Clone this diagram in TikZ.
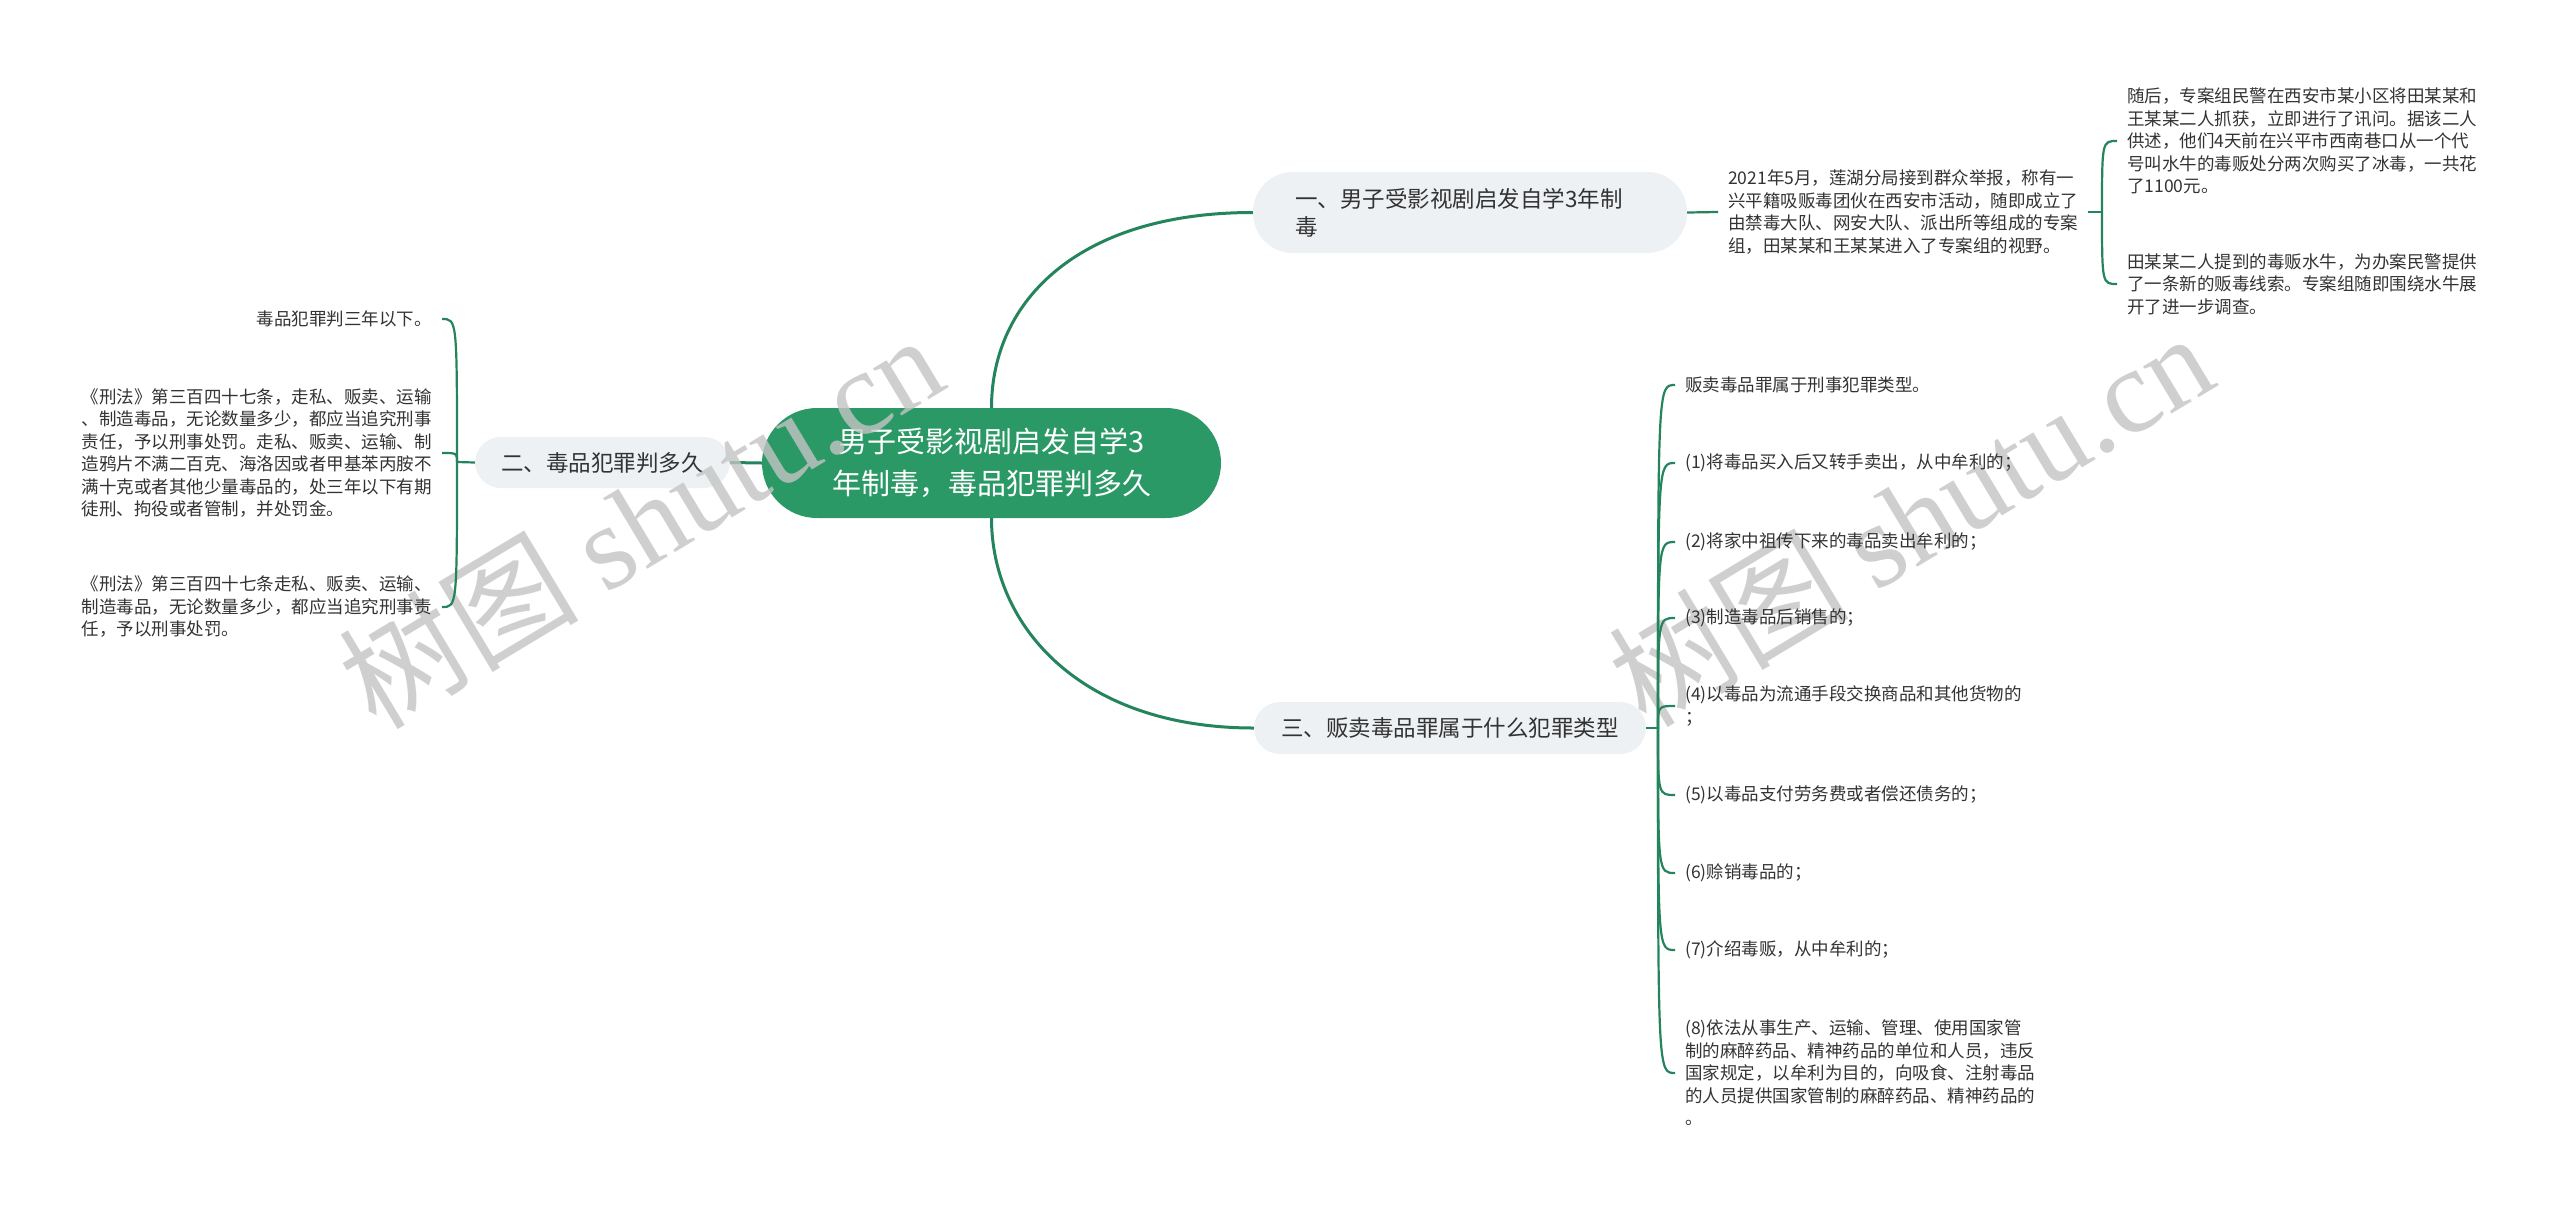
\documentclass[tikz,border=0pt]{standalone}
\usepackage{fontspec}
\setmainfont{Noto Sans CJK SC}
\newfontfamily\markfont{Liberation Serif}
\definecolor{ink}{HTML}{333333}
\definecolor{rootgreen}{HTML}{2A9966}
\definecolor{stem}{HTML}{24855C}
\definecolor{branchbg}{HTML}{EEF1F4}
\definecolor{markgray}{HTML}{C4C4C4}

\begin{document}
\begin{tikzpicture}[
  x=1pt,y=-1pt,
  rootbox/.style={rounded corners=55pt,fill=rootgreen,text=white,align=center,
                  minimum width=459pt,minimum height=110pt,inner sep=0pt,
                  font=\fontsize{29}{42}\selectfont},
  branchbox/.style={rounded corners=26pt,fill=branchbg,text=ink,align=center,
                    inner sep=0pt,font=\fontsize{22.5}{28}\selectfont},
  leaftext/.style={text=ink,align=left,inner xsep=10pt,inner ysep=0pt,
                   font=\fontsize{17.5}{22.5}\selectfont},
  limb/.style={draw=stem,line width=3pt},
  twig/.style={draw=stem,line width=2.2pt},
  wmark/.style={rotate=31,text=markgray,opacity=.8,
                font=\fontsize{120}{120}\selectfont}
]
\fill[white] (0,0) rectangle (2560,1211);
\useasboundingbox (0,0) rectangle (2560,1211);

% Central topic and its three branches.
\node[rootbox] (root) at (991.5,463) {男子受影视剧启发自学3\\年制毒，毒品犯罪判多久};

\node[branchbox,minimum width=434pt,minimum height=81pt,rounded corners=40pt,
      text width=350pt,align=left] (inspire) at (1470,212.5)
  {一、男子受影视剧启发自学3年制\\毒};
\node[branchbox,minimum width=255pt,minimum height=51pt] (sentence) at (602.5,462.5)
  {二、毒品犯罪判多久};
\node[branchbox,minimum width=392pt,minimum height=52pt] (category) at (1450,728)
  {三、贩卖毒品罪属于什么犯罪类型};

\draw[limb] (root.north) .. controls +(0,-108) and +(-173,0) .. (inspire.west);
\draw[limb] (root.south) .. controls +(0,108) and +(-173,0) .. (category.west);
\draw[limb] (root.west) -- (sentence.east);

% Watermarks, under the leaf texts.
\node[wmark] (markleft) at (640,520) {树图 {\markfont shutu.cn}};
\node[wmark] (markright) at (1910,518) {树图 {\markfont shutu.cn}};

% Branch one: the case.
\node[leaftext,anchor=west,text width=350pt] (report) at (1718,212)
  {2021年5月，莲湖分局接到群众举报，称有一\\兴平籍吸贩毒团伙在西安市活动，随即成立了\\由禁毒大队、网安大队、派出所等组成的专案\\组，田某某和王某某进入了专案组的视野。};
\node[leaftext,anchor=west] (arrest) at (2117,141)
  {随后，专案组民警在西安市某小区将田某某和\\王某某二人抓获，立即进行了讯问。据该二人\\供述，他们4天前在兴平市西南巷口从一个代\\号叫水牛的毒贩处分两次购买了冰毒，一共花\\了1100元。};
\node[leaftext,anchor=west] (clue) at (2117,284)
  {田某某二人提到的毒贩水牛，为办案民警提供\\了一条新的贩毒线索。专案组随即围绕水牛展\\开了进一步调查。};
\coordinate (fork1) at (2102,212);

\draw[twig] (inspire.east) -- (report.west);
\draw[twig] (report.east) -- (fork1);
\foreach \n in {arrest,clue}
  \draw[twig] (fork1) .. controls (fork1 |- \n.west) .. (\n.west);

% Branch two: the sentence.
\node[leaftext,anchor=east] (three) at (442,319) {毒品犯罪判三年以下。};
\node[leaftext,anchor=east,text width=350pt] (law1) at (442,453)
  {《刑法》第三百四十七条，走私、贩卖、运输\\、制造毒品，无论数量多少，都应当追究刑事\\责任，予以刑事处罚。走私、贩卖、运输、制\\造鸦片不满二百克、海洛因或者甲基苯丙胺不\\满十克或者其他少量毒品的，处三年以下有期\\徒刑、拘役或者管制，并处罚金。};
\node[leaftext,anchor=east,text width=350pt] (law2) at (442,607)
  {《刑法》第三百四十七条走私、贩卖、运输、\\制造毒品，无论数量多少，都应当追究刑事责\\任，予以刑事处罚。};
\coordinate (fork2) at (457,462);

\draw[twig] (sentence.west) -- (fork2);
\foreach \n in {three,law1,law2}
  \draw[twig] (fork2) .. controls (fork2 |- \n.east) .. (\n.east);

% Branch three: the kinds of the crime.
\coordinate (fork3) at (1658,728);
\draw[twig] (category.east) -- (fork3);
\foreach \i/\y/\t in {
  0/385/{贩卖毒品罪属于刑事犯罪类型。},
  1/463/{(1)将毒品买入后又转手卖出，从中牟利的；},
  2/542/{(2)将家中祖传下来的毒品卖出牟利的；},
  3/618/{(3)制造毒品后销售的；},
  4/706/{(4)以毒品为流通手段交换商品和其他货物的\\；},
  5/795/{(5)以毒品支付劳务费或者偿还债务的；},
  6/873/{(6)赊销毒品的；},
  7/950/{(7)介绍毒贩，从中牟利的；},
  8/1073/{(8)依法从事生产、运输、管理、使用国家管\\制的麻醉药品、精神药品的单位和人员，违反\\国家规定，以牟利为目的，向吸食、注射毒品\\的人员提供国家管制的麻醉药品、精神药品的\\。}} {
  \node[leaftext,anchor=west] (kind\i) at (1675,\y) {\t};
  \draw[twig] (fork3) .. controls (fork3 |- kind\i.west) .. (kind\i.west);
}

\end{tikzpicture}
\end{document}
